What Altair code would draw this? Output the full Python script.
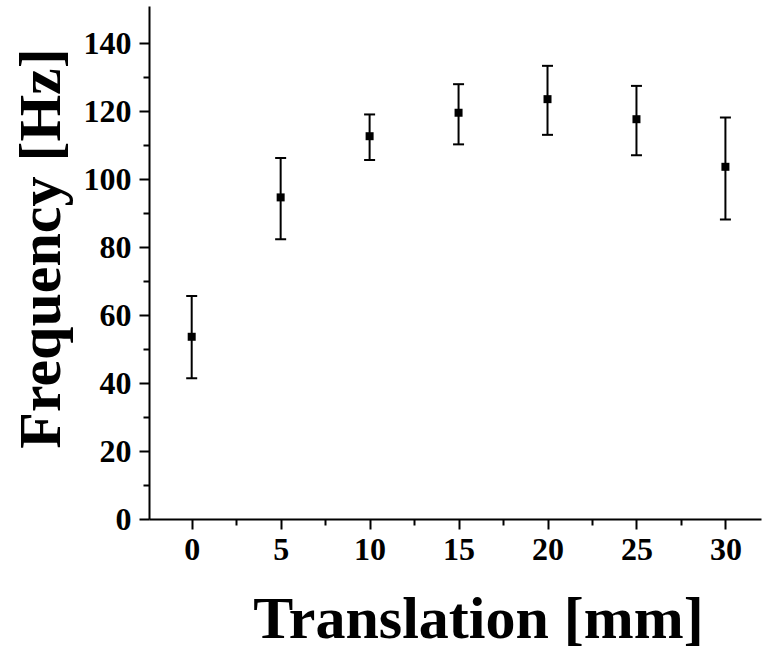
import altair as alt
import pandas as pd

# Data
translation = [0, 5, 10, 15, 20, 25, 30]
freq = [53.6, 94.6, 112.6, 119.5, 123.5, 117.6, 103.6]
err_low = [41.4, 82.3, 105.6, 110.2, 113.0, 107.0, 88.1]
err_high = [65.6, 106.2, 119.0, 127.9, 133.3, 127.4, 118.1]

x_major = [0, 5, 10, 15, 20, 25, 30]
x_minor = [2.5, 7.5, 12.5, 17.5, 22.5, 27.5]
y_major = [0, 20, 40, 60, 80, 100, 120, 140]
y_minor = [10, 30, 50, 70, 90, 110, 130]

df = pd.DataFrame({"t": translation, "f": freq, "lo": err_low, "hi": err_high})

FONT = "Liberation Serif"
xs = alt.Scale(domain=[-2.4, 32], nice=False, zero=False)
ys = alt.Scale(domain=[0, 150.9], nice=False, zero=False)

common = dict(domainColor="black", tickColor="black", labelColor="black",
              titleColor="black", grid=False)

x_major_axis = alt.Axis(values=x_major, orient="bottom", tickSize=10, tickWidth=2,
                        domainWidth=2, labelFont=FONT, labelFontSize=32,
                        labelFontWeight="bold", labelPadding=5, labelFlush=False,
                        labelOverlap=False, title="Translation [mm]", titleFont=FONT,
                        titleFontSize=60, titleFontWeight="bold", titleX=329,
                        titleY=118, titleBaseline="alphabetic", titleAlign="center",
                        **common)
y_major_axis = alt.Axis(values=y_major, orient="left", tickSize=10, tickWidth=2,
                        domainWidth=2, labelFont=FONT, labelFontSize=32,
                        labelFontWeight="bold", labelPadding=8, labelFlush=False,
                        labelOverlap=False, title="Frequency [Hz]", titleFont=FONT,
                        titleFontSize=60, titleFontWeight="bold", titleAngle=270,
                        titleX=-90, titleY=242, titleBaseline="alphabetic",
                        titleAlign="center", **common)
x_minor_axis = alt.Axis(values=x_minor, orient="bottom", tickSize=6, tickWidth=2,
                        labels=False, domain=False, title=None, **common)
y_minor_axis = alt.Axis(values=y_minor, orient="left", tickSize=6, tickWidth=2,
                        labels=False, domain=False, title=None, **common)

base = alt.Chart(df)

rules = base.mark_rule(color="black", strokeWidth=2).encode(
    x=alt.X("t:Q", scale=xs, axis=x_minor_axis),
    y=alt.Y("lo:Q", scale=ys, axis=y_minor_axis),
    y2="hi:Q",
)
caps_lo = base.mark_tick(color="black", orient="horizontal", size=11,
                         thickness=2, opacity=1).encode(
    x=alt.X("t:Q", scale=xs, axis=None),
    y=alt.Y("lo:Q", scale=ys, axis=None),
)
caps_hi = base.mark_tick(color="black", orient="horizontal", size=11,
                         thickness=2, opacity=1).encode(
    x=alt.X("t:Q", scale=xs, axis=None),
    y=alt.Y("hi:Q", scale=ys, axis=None),
)
points = base.mark_square(color="black", size=64, opacity=1).encode(
    x=alt.X("t:Q", scale=xs, axis=x_major_axis),
    y=alt.Y("f:Q", scale=ys, axis=y_major_axis),
)

chart = alt.layer(rules, caps_lo, caps_hi, points).resolve_axis(
    x="independent", y="independent"
).properties(
    width=612, height=513,
    padding={"left": 149, "top": 6, "right": 3, "bottom": 132},
    autosize=alt.AutoSizeParams(type="none"),
    background="white",
).configure_view(stroke=None)

chart.save("out.html", embed_options={"renderer": "svg", "actions": False})
